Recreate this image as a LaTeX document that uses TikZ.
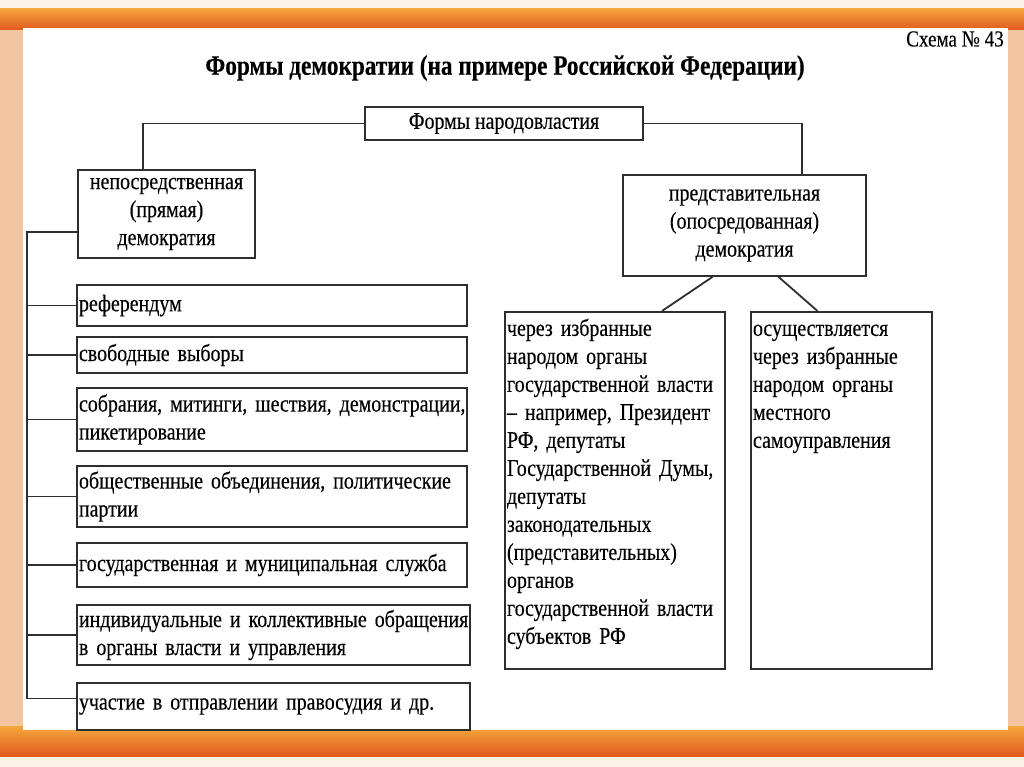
\documentclass[tikz,border=0pt]{standalone}
\usepackage{fontspec}
\setmainfont{Liberation Serif}[FakeStretch=0.83, FakeBold=0.3]
\usepackage{tikz}

\definecolor{linegray}{HTML}{2E2E2E}
\definecolor{peach}{HTML}{F2C4A0}
\definecolor{paleband}{HTML}{FBF1E4}
\definecolor{bandtop}{HTML}{F5A83E}
\definecolor{bandbot}{HTML}{E2581E}

\newcommand\boxfont{\fontsize{24}{28}\selectfont\fontdimen2\font=4.8pt\relax}

\tikzset{
	box/.style={draw=linegray, line width=1.8pt, fill=white, inner sep=2pt,
		font=\boxfont},
	item/.style={box, text width=386pt, align=left},
	col/.style={box, anchor=north, align=left, inner ysep=5pt,
		text height=19pt, text depth=328pt},
	link/.style={draw=linegray, line width=1.8pt},
}

\begin{document}
\begin{tikzpicture}[x=1pt,y=-1pt]
	\useasboundingbox (0,0) rectangle (1024,767);
	\fill[peach] (0,0) rectangle (1024,767);
	\shade[top color=bandtop, bottom color=bandbot] (0,8) rectangle (1024,30);
	\shade[top color=bandtop, bottom color=bandbot] (0,726) rectangle (1024,757);
	\fill[paleband] (0,0) rectangle (1024,8);
	\fill[paleband] (0,757) rectangle (1024,767);
	\fill[white] (23,28) rectangle (1008,730);

	\node[font=\fontsize{23}{24}\selectfont] (scheme) at (955,39) {Схема № 43};
	\node[font=\fontsize{28}{30}\selectfont\bfseries] (title) at (505,68)
	{Формы демократии (на примере Российской Федерации)};

	\node[box, minimum width=278pt, minimum height=33pt] (root) at (504,123.5)
	{Формы народовластия};
	\node[box, align=center, minimum width=177pt, minimum height=88pt] (direct) at (166.5,214)
	{
		непосредственная\\
		(прямая)\\
		демократия
	};
	\node[box, align=center, minimum width=243pt, minimum height=101pt] (repr) at (744.5,225.5)
	{
		представительная\\
		(опосредованная)\\
		демократия
	};

	\node[item, minimum height=41pt] (ref) at (272,305.5) {референдум};
	\node[item, minimum height=36pt] (elect) at (272,355) {свободные выборы};
	\node[item, minimum height=63pt] (meet) at (272,419.5)
	{\mbox{собрания, митинги, шествия, демонстрации,}\\пикетирование};
	\node[item, minimum height=61pt] (assoc) at (272,496.5)
	{общественные объединения, политические\\партии};
	\node[item, minimum height=44pt] (service) at (272,565)
	{государственная и муниципальная служба};
	\node[item, text width=389pt, minimum height=60pt] (appeal) at (273.5,635)
	{\mbox{индивидуальные и коллективные обращения}\\в органы власти и управления};
	\node[item, text width=389pt, minimum height=47pt] (justice) at (273.5,706.5)
	{участие в отправлении правосудия и др.};

	\node[col, text width=216pt] (state) at (615,311)
	{
		через избранные\\
		народом органы\\
		государственной власти\\
		– например, Президент\\
		РФ, депутаты\\
		Государственной Думы,\\
		депутаты\\
		законодательных\\
		(представительных)\\
		органов\\
		государственной власти\\
		субъектов РФ
	};
	\node[col, text width=177pt] (local) at (841.5,311)
	{
		осуществляется\\
		через избранные\\
		народом органы\\
		местного\\
		самоуправления
	};

	\coordinate (bustop) at (27,232);
	\draw[link] (root.west) -| ([xshift=-23.5pt]direct.north);
	\draw[link] (root.east) -| ([xshift=57.5pt]repr.north);
	\draw[link] ([yshift=-18pt]direct.west) -- (bustop) |- ([yshift=8pt]justice.west);
	\draw[link] (bustop |- ref.west) -- (ref.west);
	\draw[link] (bustop |- elect.west) -- (elect.west);
	\draw[link] (bustop |- meet.west) -- (meet.west);
	\draw[link] (bustop |- assoc.west) -- (assoc.west);
	\draw[link] (bustop |- service.west) -- (service.west);
	\draw[link] (bustop |- appeal.west) -- (appeal.west);
	\draw[link] ([xshift=-32pt]repr.south) -- ([xshift=47pt]state.north);
	\draw[link] ([xshift=34pt]repr.south) -- ([xshift=-24pt]local.north);
\end{tikzpicture}
\end{document}
